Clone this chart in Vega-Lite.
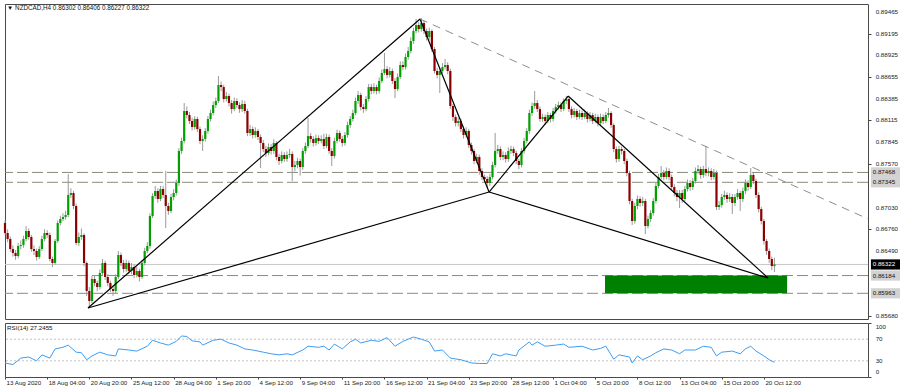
{
"$schema":"https://vega.github.io/schema/vega-lite/v6.json",
"padding":{"left":2,"top":3,"right":0,"bottom":0},
"spacing":2,
"config":{"font":"Liberation Sans","view":{"stroke":"#4a4a4a","strokeWidth":1},"axis":{"grid":false,"domain":false,"labelFontSize":6.2,"labelColor":"#222","tickColor":"#444","tickSize":3,"title":null,"labelFont":"Liberation Sans"}},
"datasets":{
"c":[
{"i":0,"o":0.86838,"h":0.8687,"l":0.8669,"c":0.86714},
{"i":1,"o":0.86714,"h":0.8676,"l":0.866,"c":0.86639},
{"i":2,"o":0.86639,"h":0.8667,"l":0.8648,"c":0.86514},
{"i":3,"o":0.86514,"h":0.8656,"l":0.8642,"c":0.86465},
{"i":4,"o":0.86465,"h":0.865,"l":0.8638,"c":0.86427},
{"i":5,"o":0.86427,"h":0.8659,"l":0.864,"c":0.86552},
{"i":6,"o":0.86552,"h":0.8662,"l":0.8651,"c":0.86564},
{"i":7,"o":0.86564,"h":0.8668,"l":0.8653,"c":0.86639},
{"i":8,"o":0.86639,"h":0.868,"l":0.8661,"c":0.86739},
{"i":9,"o":0.86739,"h":0.8677,"l":0.8663,"c":0.86664},
{"i":10,"o":0.86664,"h":0.8669,"l":0.8648,"c":0.86514},
{"i":11,"o":0.86514,"h":0.8656,"l":0.8644,"c":0.8649},
{"i":12,"o":0.8649,"h":0.8652,"l":0.8637,"c":0.86415},
{"i":13,"o":0.86415,"h":0.8655,"l":0.8639,"c":0.86514},
{"i":14,"o":0.86514,"h":0.8668,"l":0.8649,"c":0.86639},
{"i":15,"o":0.86639,"h":0.8676,"l":0.8661,"c":0.86714},
{"i":16,"o":0.86714,"h":0.8675,"l":0.8665,"c":0.86689},
{"i":17,"o":0.86689,"h":0.8672,"l":0.8636,"c":0.8639},
{"i":18,"o":0.8639,"h":0.8642,"l":0.8629,"c":0.8634},
{"i":19,"o":0.8634,"h":0.8664,"l":0.8632,"c":0.86614},
{"i":20,"o":0.86614,"h":0.8687,"l":0.8659,"c":0.86838},
{"i":21,"o":0.86838,"h":0.8693,"l":0.8681,"c":0.86888},
{"i":22,"o":0.86888,"h":0.8696,"l":0.8686,"c":0.86913},
{"i":23,"o":0.86913,"h":0.8699,"l":0.8688,"c":0.86938},
{"i":24,"o":0.86938,"h":0.87448,"l":0.8691,"c":0.87187},
{"i":25,"o":0.87187,"h":0.8727,"l":0.8715,"c":0.87212},
{"i":26,"o":0.87212,"h":0.8724,"l":0.8701,"c":0.8705},
{"i":27,"o":0.8705,"h":0.8708,"l":0.8656,"c":0.86589},
{"i":28,"o":0.86589,"h":0.8672,"l":0.8655,"c":0.86664},
{"i":29,"o":0.86664,"h":0.8677,"l":0.8663,"c":0.86689},
{"i":30,"o":0.86689,"h":0.8671,"l":0.863,"c":0.8634},
{"i":31,"o":0.8634,"h":0.8636,"l":0.8593,"c":0.85992},
{"i":32,"o":0.85992,"h":0.8604,"l":0.8578,"c":0.85867},
{"i":33,"o":0.85867,"h":0.8618,"l":0.8584,"c":0.86141},
{"i":34,"o":0.86141,"h":0.8619,"l":0.8605,"c":0.86091},
{"i":35,"o":0.86091,"h":0.8612,"l":0.8599,"c":0.86041},
{"i":36,"o":0.86041,"h":0.8626,"l":0.8601,"c":0.86216},
{"i":37,"o":0.86216,"h":0.8639,"l":0.8618,"c":0.8634},
{"i":38,"o":0.8634,"h":0.8637,"l":0.8613,"c":0.86166},
{"i":39,"o":0.86166,"h":0.862,"l":0.8605,"c":0.86091},
{"i":40,"o":0.86091,"h":0.8612,"l":0.8598,"c":0.86016},
{"i":41,"o":0.86016,"h":0.8606,"l":0.8593,"c":0.85992},
{"i":42,"o":0.85992,"h":0.862,"l":0.8596,"c":0.86166},
{"i":43,"o":0.86166,"h":0.8649,"l":0.8614,"c":0.8644},
{"i":44,"o":0.8644,"h":0.8647,"l":0.863,"c":0.8634},
{"i":45,"o":0.8634,"h":0.8638,"l":0.8622,"c":0.86265},
{"i":46,"o":0.86265,"h":0.8638,"l":0.8623,"c":0.8634},
{"i":47,"o":0.8634,"h":0.8637,"l":0.862,"c":0.86241},
{"i":48,"o":0.86241,"h":0.8634,"l":0.862,"c":0.8629},
{"i":49,"o":0.8629,"h":0.8632,"l":0.8615,"c":0.86191},
{"i":50,"o":0.86191,"h":0.8629,"l":0.8616,"c":0.86241},
{"i":51,"o":0.86241,"h":0.8627,"l":0.8611,"c":0.86166},
{"i":52,"o":0.86166,"h":0.8638,"l":0.8614,"c":0.8634},
{"i":53,"o":0.8634,"h":0.8653,"l":0.8631,"c":0.8649},
{"i":54,"o":0.8649,"h":0.866,"l":0.8646,"c":0.86552},
{"i":55,"o":0.86552,"h":0.8696,"l":0.8652,"c":0.86925},
{"i":56,"o":0.86925,"h":0.8721,"l":0.869,"c":0.87174},
{"i":57,"o":0.87174,"h":0.873,"l":0.8714,"c":0.87237},
{"i":58,"o":0.87237,"h":0.8727,"l":0.8709,"c":0.87137},
{"i":59,"o":0.87137,"h":0.873,"l":0.8711,"c":0.87261},
{"i":60,"o":0.87261,"h":0.873,"l":0.8715,"c":0.87187},
{"i":61,"o":0.87187,"h":0.87486,"l":0.86776,"c":0.8705},
{"i":62,"o":0.8705,"h":0.8709,"l":0.8694,"c":0.86988},
{"i":63,"o":0.86988,"h":0.872,"l":0.8696,"c":0.87162},
{"i":64,"o":0.87162,"h":0.8726,"l":0.8712,"c":0.87212},
{"i":65,"o":0.87212,"h":0.8738,"l":0.8718,"c":0.87336},
{"i":66,"o":0.87336,"h":0.8777,"l":0.873,"c":0.87735},
{"i":67,"o":0.87735,"h":0.879,"l":0.877,"c":0.87859},
{"i":68,"o":0.87859,"h":0.88332,"l":0.8783,"c":0.88233},
{"i":69,"o":0.88233,"h":0.8829,"l":0.8814,"c":0.88183},
{"i":70,"o":0.88183,"h":0.8822,"l":0.8807,"c":0.88108},
{"i":71,"o":0.88108,"h":0.8815,"l":0.8799,"c":0.88033},
{"i":72,"o":0.88033,"h":0.8817,"l":0.88,"c":0.88133},
{"i":73,"o":0.88133,"h":0.8816,"l":0.8797,"c":0.88008},
{"i":74,"o":0.88008,"h":0.8804,"l":0.8782,"c":0.87859},
{"i":75,"o":0.87859,"h":0.8793,"l":0.87735,"c":0.87884},
{"i":76,"o":0.87884,"h":0.8802,"l":0.8785,"c":0.87984},
{"i":77,"o":0.87984,"h":0.8817,"l":0.8795,"c":0.88133},
{"i":78,"o":0.88133,"h":0.8825,"l":0.881,"c":0.88208},
{"i":79,"o":0.88208,"h":0.8835,"l":0.8818,"c":0.88307},
{"i":80,"o":0.88307,"h":0.884,"l":0.8827,"c":0.88357},
{"i":81,"o":0.88357,"h":0.88668,"l":0.8833,"c":0.88556},
{"i":82,"o":0.88556,"h":0.886,"l":0.8848,"c":0.88531},
{"i":83,"o":0.88531,"h":0.8856,"l":0.8834,"c":0.88382},
{"i":84,"o":0.88382,"h":0.8847,"l":0.8835,"c":0.88419},
{"i":85,"o":0.88419,"h":0.8845,"l":0.8829,"c":0.88332},
{"i":86,"o":0.88332,"h":0.8837,"l":0.882,"c":0.88257},
{"i":87,"o":0.88257,"h":0.884,"l":0.8823,"c":0.88357},
{"i":88,"o":0.88357,"h":0.8839,"l":0.8827,"c":0.88307},
{"i":89,"o":0.88307,"h":0.8834,"l":0.8821,"c":0.88257},
{"i":90,"o":0.88257,"h":0.8837,"l":0.8822,"c":0.8832},
{"i":91,"o":0.8832,"h":0.8836,"l":0.882,"c":0.88233},
{"i":92,"o":0.88233,"h":0.8826,"l":0.8792,"c":0.87959},
{"i":93,"o":0.87959,"h":0.8806,"l":0.8792,"c":0.88008},
{"i":94,"o":0.88008,"h":0.8804,"l":0.8789,"c":0.87934},
{"i":95,"o":0.87934,"h":0.8803,"l":0.879,"c":0.87984},
{"i":96,"o":0.87984,"h":0.8801,"l":0.8787,"c":0.87909},
{"i":97,"o":0.87909,"h":0.8794,"l":0.87523,"c":0.87834},
{"i":98,"o":0.87834,"h":0.8787,"l":0.8772,"c":0.87759},
{"i":99,"o":0.87759,"h":0.878,"l":0.8766,"c":0.8771},
{"i":100,"o":0.8771,"h":0.8783,"l":0.8768,"c":0.87784},
{"i":101,"o":0.87784,"h":0.8782,"l":0.8769,"c":0.87735},
{"i":102,"o":0.87735,"h":0.8788,"l":0.877,"c":0.87834},
{"i":103,"o":0.87834,"h":0.8786,"l":0.8762,"c":0.8766},
{"i":104,"o":0.8766,"h":0.877,"l":0.8756,"c":0.8761},
{"i":105,"o":0.8761,"h":0.8773,"l":0.8758,"c":0.87685},
{"i":106,"o":0.87685,"h":0.8772,"l":0.876,"c":0.87635},
{"i":107,"o":0.87635,"h":0.8773,"l":0.876,"c":0.87685},
{"i":108,"o":0.87685,"h":0.8776,"l":0.8765,"c":0.87697},
{"i":109,"o":0.87697,"h":0.8773,"l":0.87361,"c":0.87535},
{"i":110,"o":0.87535,"h":0.8761,"l":0.8748,"c":0.8756},
{"i":111,"o":0.8756,"h":0.8765,"l":0.8752,"c":0.8761},
{"i":112,"o":0.8761,"h":0.8764,"l":0.8743,"c":0.87535},
{"i":113,"o":0.87535,"h":0.8777,"l":0.875,"c":0.87735},
{"i":114,"o":0.87735,"h":0.8784,"l":0.877,"c":0.87797},
{"i":115,"o":0.87797,"h":0.88145,"l":0.8777,"c":0.87921},
{"i":116,"o":0.87921,"h":0.8796,"l":0.8784,"c":0.87884},
{"i":117,"o":0.87884,"h":0.8792,"l":0.8779,"c":0.87834},
{"i":118,"o":0.87834,"h":0.8794,"l":0.878,"c":0.87896},
{"i":119,"o":0.87896,"h":0.8793,"l":0.8782,"c":0.87859},
{"i":120,"o":0.87859,"h":0.8793,"l":0.8783,"c":0.87884},
{"i":121,"o":0.87884,"h":0.8795,"l":0.8776,"c":0.87797},
{"i":122,"o":0.87797,"h":0.8795,"l":0.8777,"c":0.87909},
{"i":123,"o":0.87909,"h":0.8794,"l":0.877,"c":0.87735},
{"i":124,"o":0.87735,"h":0.8777,"l":0.87548,"c":0.87672},
{"i":125,"o":0.87672,"h":0.879,"l":0.8764,"c":0.87859},
{"i":126,"o":0.87859,"h":0.88,"l":0.8783,"c":0.87959},
{"i":127,"o":0.87959,"h":0.8799,"l":0.8785,"c":0.87884},
{"i":128,"o":0.87884,"h":0.8792,"l":0.8779,"c":0.87834},
{"i":129,"o":0.87834,"h":0.8797,"l":0.878,"c":0.87934},
{"i":130,"o":0.87934,"h":0.881,"l":0.879,"c":0.88058},
{"i":131,"o":0.88058,"h":0.8817,"l":0.8802,"c":0.88133},
{"i":132,"o":0.88133,"h":0.8825,"l":0.881,"c":0.88208},
{"i":133,"o":0.88208,"h":0.884,"l":0.8818,"c":0.88357},
{"i":134,"o":0.88357,"h":0.8848,"l":0.8832,"c":0.88432},
{"i":135,"o":0.88432,"h":0.8846,"l":0.8824,"c":0.88282},
{"i":136,"o":0.88282,"h":0.8832,"l":0.8821,"c":0.88257},
{"i":137,"o":0.88257,"h":0.8842,"l":0.8823,"c":0.88382},
{"i":138,"o":0.88382,"h":0.8857,"l":0.8835,"c":0.88531},
{"i":139,"o":0.88531,"h":0.8857,"l":0.8844,"c":0.88482},
{"i":140,"o":0.88482,"h":0.8858,"l":0.8845,"c":0.88531},
{"i":141,"o":0.88531,"h":0.8856,"l":0.8844,"c":0.88482},
{"i":142,"o":0.88482,"h":0.8865,"l":0.8845,"c":0.88606},
{"i":143,"o":0.88606,"h":0.8875,"l":0.8858,"c":0.88706},
{"i":144,"o":0.88706,"h":0.88955,"l":0.8868,"c":0.88755},
{"i":145,"o":0.88755,"h":0.8879,"l":0.8864,"c":0.88681},
{"i":146,"o":0.88681,"h":0.8878,"l":0.8865,"c":0.88731},
{"i":147,"o":0.88731,"h":0.8876,"l":0.8857,"c":0.88606},
{"i":148,"o":0.88606,"h":0.8864,"l":0.88394,"c":0.88506},
{"i":149,"o":0.88506,"h":0.887,"l":0.8848,"c":0.88656},
{"i":150,"o":0.88656,"h":0.8885,"l":0.8863,"c":0.88805},
{"i":151,"o":0.88805,"h":0.8885,"l":0.8874,"c":0.8878},
{"i":152,"o":0.8878,"h":0.8895,"l":0.8875,"c":0.88905},
{"i":153,"o":0.88905,"h":0.8903,"l":0.8887,"c":0.8898},
{"i":154,"o":0.8898,"h":0.8915,"l":0.8895,"c":0.89104},
{"i":155,"o":0.89104,"h":0.8927,"l":0.8907,"c":0.89229},
{"i":156,"o":0.89229,"h":0.89378,"l":0.892,"c":0.89303},
{"i":157,"o":0.89303,"h":0.8934,"l":0.8921,"c":0.89253},
{"i":158,"o":0.89253,"h":0.8939,"l":0.8922,"c":0.89328},
{"i":159,"o":0.89328,"h":0.8936,"l":0.8919,"c":0.89229},
{"i":160,"o":0.89229,"h":0.8926,"l":0.8911,"c":0.89154},
{"i":161,"o":0.89154,"h":0.8927,"l":0.8912,"c":0.89229},
{"i":162,"o":0.89229,"h":0.8925,"l":0.8897,"c":0.89004},
{"i":163,"o":0.89004,"h":0.8903,"l":0.887,"c":0.88731},
{"i":164,"o":0.88731,"h":0.8877,"l":0.8864,"c":0.88681},
{"i":165,"o":0.88681,"h":0.8877,"l":0.88457,"c":0.88731},
{"i":166,"o":0.88731,"h":0.8883,"l":0.887,"c":0.8878},
{"i":167,"o":0.8878,"h":0.8888,"l":0.8875,"c":0.88805},
{"i":168,"o":0.88805,"h":0.8884,"l":0.8869,"c":0.88731},
{"i":169,"o":0.88731,"h":0.8876,"l":0.8826,"c":0.88295},
{"i":170,"o":0.88295,"h":0.8832,"l":0.8811,"c":0.88158},
{"i":171,"o":0.88158,"h":0.8819,"l":0.8804,"c":0.88083},
{"i":172,"o":0.88083,"h":0.8815,"l":0.8804,"c":0.88108},
{"i":173,"o":0.88108,"h":0.8814,"l":0.8797,"c":0.88008},
{"i":174,"o":0.88008,"h":0.8804,"l":0.8789,"c":0.87934},
{"i":175,"o":0.87934,"h":0.8803,"l":0.879,"c":0.87984},
{"i":176,"o":0.87984,"h":0.8801,"l":0.8777,"c":0.87809},
{"i":177,"o":0.87809,"h":0.8784,"l":0.8769,"c":0.87735},
{"i":178,"o":0.87735,"h":0.8776,"l":0.8757,"c":0.8761},
{"i":179,"o":0.8761,"h":0.877,"l":0.8758,"c":0.8766},
{"i":180,"o":0.8766,"h":0.8769,"l":0.8744,"c":0.87486},
{"i":181,"o":0.87486,"h":0.8752,"l":0.8737,"c":0.87411},
{"i":182,"o":0.87411,"h":0.8744,"l":0.8734,"c":0.87386},
{"i":183,"o":0.87386,"h":0.8742,"l":0.87274,"c":0.87336},
{"i":184,"o":0.87336,"h":0.8745,"l":0.873,"c":0.87411},
{"i":185,"o":0.87411,"h":0.876,"l":0.8738,"c":0.8756},
{"i":186,"o":0.8756,"h":0.87959,"l":0.8753,"c":0.87735},
{"i":187,"o":0.87735,"h":0.8781,"l":0.877,"c":0.87759},
{"i":188,"o":0.87759,"h":0.8779,"l":0.8762,"c":0.8766},
{"i":189,"o":0.8766,"h":0.8773,"l":0.8762,"c":0.87685},
{"i":190,"o":0.87685,"h":0.8772,"l":0.8759,"c":0.87635},
{"i":191,"o":0.87635,"h":0.8778,"l":0.876,"c":0.87735},
{"i":192,"o":0.87735,"h":0.878,"l":0.877,"c":0.87759},
{"i":193,"o":0.87759,"h":0.8779,"l":0.8767,"c":0.8771},
{"i":194,"o":0.8771,"h":0.8774,"l":0.8757,"c":0.8761},
{"i":195,"o":0.8761,"h":0.8764,"l":0.8751,"c":0.8756},
{"i":196,"o":0.8756,"h":0.8777,"l":0.8753,"c":0.87735},
{"i":197,"o":0.87735,"h":0.879,"l":0.877,"c":0.87859},
{"i":198,"o":0.87859,"h":0.8802,"l":0.8783,"c":0.87984},
{"i":199,"o":0.87984,"h":0.8825,"l":0.8795,"c":0.88208},
{"i":200,"o":0.88208,"h":0.8834,"l":0.8817,"c":0.88295},
{"i":201,"o":0.88295,"h":0.88482,"l":0.8826,"c":0.88332},
{"i":202,"o":0.88332,"h":0.8837,"l":0.8822,"c":0.88257},
{"i":203,"o":0.88257,"h":0.8829,"l":0.881,"c":0.88133},
{"i":204,"o":0.88133,"h":0.882,"l":0.881,"c":0.88158},
{"i":205,"o":0.88158,"h":0.8819,"l":0.8806,"c":0.88108},
{"i":206,"o":0.88108,"h":0.8822,"l":0.8808,"c":0.88183},
{"i":207,"o":0.88183,"h":0.8821,"l":0.8809,"c":0.88133},
{"i":208,"o":0.88133,"h":0.8827,"l":0.881,"c":0.88233},
{"i":209,"o":0.88233,"h":0.8832,"l":0.882,"c":0.88282},
{"i":210,"o":0.88282,"h":0.8835,"l":0.8825,"c":0.88307},
{"i":211,"o":0.88307,"h":0.8834,"l":0.8822,"c":0.88257},
{"i":212,"o":0.88257,"h":0.8839,"l":0.8823,"c":0.88357},
{"i":213,"o":0.88357,"h":0.88419,"l":0.8832,"c":0.88382},
{"i":214,"o":0.88382,"h":0.884,"l":0.8822,"c":0.88257},
{"i":215,"o":0.88257,"h":0.8829,"l":0.8814,"c":0.88183},
{"i":216,"o":0.88183,"h":0.8827,"l":0.8815,"c":0.88233},
{"i":217,"o":0.88233,"h":0.8826,"l":0.8812,"c":0.88158},
{"i":218,"o":0.88158,"h":0.8825,"l":0.8813,"c":0.88208},
{"i":219,"o":0.88208,"h":0.8824,"l":0.8812,"c":0.88158},
{"i":220,"o":0.88158,"h":0.8825,"l":0.8813,"c":0.88208},
{"i":221,"o":0.88208,"h":0.8823,"l":0.8809,"c":0.88133},
{"i":222,"o":0.88133,"h":0.8822,"l":0.881,"c":0.88183},
{"i":223,"o":0.88183,"h":0.8821,"l":0.8807,"c":0.88108},
{"i":224,"o":0.88108,"h":0.882,"l":0.8808,"c":0.88158},
{"i":225,"o":0.88158,"h":0.8819,"l":0.8804,"c":0.88083},
{"i":226,"o":0.88083,"h":0.882,"l":0.8805,"c":0.88158},
{"i":227,"o":0.88158,"h":0.8819,"l":0.8807,"c":0.88108},
{"i":228,"o":0.88108,"h":0.8822,"l":0.8808,"c":0.88183},
{"i":229,"o":0.88183,"h":0.8827,"l":0.8815,"c":0.88208},
{"i":230,"o":0.88208,"h":0.8823,"l":0.8802,"c":0.88058},
{"i":231,"o":0.88058,"h":0.8808,"l":0.8772,"c":0.87759},
{"i":232,"o":0.87759,"h":0.8779,"l":0.8759,"c":0.87635},
{"i":233,"o":0.87635,"h":0.878,"l":0.876,"c":0.87759},
{"i":234,"o":0.87759,"h":0.8779,"l":0.8769,"c":0.87735},
{"i":235,"o":0.87735,"h":0.8776,"l":0.8757,"c":0.8761},
{"i":236,"o":0.8761,"h":0.8764,"l":0.8742,"c":0.87461},
{"i":237,"o":0.87461,"h":0.8749,"l":0.8707,"c":0.87112},
{"i":238,"o":0.87112,"h":0.8714,"l":0.86813,"c":0.86863},
{"i":239,"o":0.86863,"h":0.8709,"l":0.8683,"c":0.8705},
{"i":240,"o":0.8705,"h":0.8718,"l":0.8701,"c":0.87137},
{"i":241,"o":0.87137,"h":0.8717,"l":0.8704,"c":0.87087},
{"i":242,"o":0.87087,"h":0.8716,"l":0.8705,"c":0.87112},
{"i":243,"o":0.87112,"h":0.8714,"l":0.86701,"c":0.86801},
{"i":244,"o":0.86801,"h":0.8693,"l":0.8677,"c":0.86888},
{"i":245,"o":0.86888,"h":0.87,"l":0.8685,"c":0.86963},
{"i":246,"o":0.86963,"h":0.8715,"l":0.8693,"c":0.87112},
{"i":247,"o":0.87112,"h":0.8734,"l":0.8708,"c":0.87299},
{"i":248,"o":0.87299,"h":0.8745,"l":0.8727,"c":0.87411},
{"i":249,"o":0.87411,"h":0.87548,"l":0.8738,"c":0.87461},
{"i":250,"o":0.87461,"h":0.875,"l":0.8737,"c":0.87411},
{"i":251,"o":0.87411,"h":0.8753,"l":0.8738,"c":0.87486},
{"i":252,"o":0.87486,"h":0.8752,"l":0.8737,"c":0.87411},
{"i":253,"o":0.87411,"h":0.8744,"l":0.8724,"c":0.87286},
{"i":254,"o":0.87286,"h":0.8732,"l":0.8717,"c":0.87212},
{"i":255,"o":0.87212,"h":0.8725,"l":0.8711,"c":0.87162},
{"i":256,"o":0.87162,"h":0.8725,"l":0.87025,"c":0.87212},
{"i":257,"o":0.87212,"h":0.8725,"l":0.8709,"c":0.87137},
{"i":258,"o":0.87137,"h":0.873,"l":0.8711,"c":0.87261},
{"i":259,"o":0.87261,"h":0.8738,"l":0.8723,"c":0.87336},
{"i":260,"o":0.87336,"h":0.8737,"l":0.8724,"c":0.87286},
{"i":261,"o":0.87286,"h":0.874,"l":0.8725,"c":0.87361},
{"i":262,"o":0.87361,"h":0.8753,"l":0.8733,"c":0.87486},
{"i":263,"o":0.87486,"h":0.8756,"l":0.8745,"c":0.8751},
{"i":264,"o":0.8751,"h":0.8754,"l":0.8739,"c":0.87436},
{"i":265,"o":0.87436,"h":0.8755,"l":0.874,"c":0.8751},
{"i":266,"o":0.8751,"h":0.87797,"l":0.8742,"c":0.87461},
{"i":267,"o":0.87461,"h":0.8753,"l":0.8742,"c":0.87486},
{"i":268,"o":0.87486,"h":0.8752,"l":0.8737,"c":0.87411},
{"i":269,"o":0.87411,"h":0.8751,"l":0.8738,"c":0.87461},
{"i":270,"o":0.87461,"h":0.8749,"l":0.87,"c":0.87037},
{"i":271,"o":0.87037,"h":0.8711,"l":0.87,"c":0.87062},
{"i":272,"o":0.87062,"h":0.872,"l":0.8703,"c":0.87162},
{"i":273,"o":0.87162,"h":0.8724,"l":0.8713,"c":0.87187},
{"i":274,"o":0.87187,"h":0.8722,"l":0.8709,"c":0.87137},
{"i":275,"o":0.87137,"h":0.8721,"l":0.871,"c":0.87162},
{"i":276,"o":0.87162,"h":0.872,"l":0.8695,"c":0.87087},
{"i":277,"o":0.87087,"h":0.872,"l":0.8705,"c":0.87162},
{"i":278,"o":0.87162,"h":0.8726,"l":0.8713,"c":0.87212},
{"i":279,"o":0.87212,"h":0.8724,"l":0.86988,"c":0.87137},
{"i":280,"o":0.87137,"h":0.8728,"l":0.871,"c":0.87237},
{"i":281,"o":0.87237,"h":0.8738,"l":0.872,"c":0.87336},
{"i":282,"o":0.87336,"h":0.8737,"l":0.8724,"c":0.87286},
{"i":283,"o":0.87286,"h":0.87523,"l":0.8726,"c":0.87436},
{"i":284,"o":0.87436,"h":0.8747,"l":0.8732,"c":0.87361},
{"i":285,"o":0.87361,"h":0.8739,"l":0.8715,"c":0.87187},
{"i":286,"o":0.87187,"h":0.8722,"l":0.8697,"c":0.87012},
{"i":287,"o":0.87012,"h":0.8704,"l":0.8682,"c":0.86863},
{"i":288,"o":0.86863,"h":0.8689,"l":0.8657,"c":0.86614},
{"i":289,"o":0.86614,"h":0.8664,"l":0.8644,"c":0.8649},
{"i":290,"o":0.8649,"h":0.8652,"l":0.8634,"c":0.8639},
{"i":291,"o":0.8639,"h":0.8642,"l":0.8625,"c":0.86302},
{"i":292,"o":0.86302,"h":0.86406,"l":0.86227,"c":0.86322}
],
"rsi":[
{"i":0,"v":26},{"i":3,"v":23},{"i":6,"v":35},{"i":9,"v":37},{"i":12,"v":30},{"i":14,"v":41},{"i":17,"v":35},{"i":19,"v":52},{"i":22,"v":55},{"i":24,"v":59},{"i":27,"v":46},{"i":29,"v":45},{"i":31,"v":32},{"i":33,"v":39},{"i":36,"v":46},{"i":39,"v":41},{"i":42,"v":39},{"i":43,"v":52},{"i":47,"v":50},{"i":50,"v":48},{"i":54,"v":57},{"i":56,"v":68},{"i":59,"v":63},{"i":62,"v":59},{"i":65,"v":66},{"i":67,"v":76},{"i":69,"v":75},{"i":71,"v":67},{"i":74,"v":65},{"i":75,"v":59},{"i":79,"v":68},{"i":82,"v":70},{"i":85,"v":63},{"i":88,"v":59},{"i":91,"v":52},{"i":94,"v":50},{"i":98,"v":46},{"i":101,"v":43},{"i":104,"v":41},{"i":107,"v":43},{"i":109,"v":41},{"i":113,"v":50},{"i":115,"v":57},{"i":119,"v":55},{"i":121,"v":57},{"i":123,"v":50},{"i":125,"v":61},{"i":128,"v":52},{"i":131,"v":65},{"i":133,"v":70},{"i":135,"v":63},{"i":139,"v":68},{"i":142,"v":66},{"i":145,"v":73},{"i":148,"v":57},{"i":151,"v":66},{"i":155,"v":74},{"i":158,"v":70},{"i":161,"v":65},{"i":163,"v":48},{"i":166,"v":50},{"i":169,"v":35},{"i":173,"v":32},{"i":177,"v":26},{"i":180,"v":25},{"i":183,"v":25},{"i":185,"v":43},{"i":188,"v":39},{"i":190,"v":43},{"i":194,"v":39},{"i":195,"v":50},{"i":199,"v":65},{"i":200,"v":59},{"i":202,"v":65},{"i":205,"v":57},{"i":209,"v":59},{"i":212,"v":61},{"i":214,"v":55},{"i":219,"v":57},{"i":223,"v":50},{"i":226,"v":53},{"i":228,"v":57},{"i":231,"v":33},{"i":233,"v":41},{"i":237,"v":37},{"i":238,"v":26},{"i":240,"v":39},{"i":242,"v":32},{"i":245,"v":39},{"i":247,"v":45},{"i":250,"v":52},{"i":253,"v":50},{"i":256,"v":43},{"i":258,"v":50},{"i":262,"v":50},{"i":265,"v":57},{"i":268,"v":55},{"i":270,"v":39},{"i":272,"v":46},{"i":276,"v":48},{"i":279,"v":43},{"i":281,"v":52},{"i":283,"v":57},{"i":285,"v":48},{"i":288,"v":39},{"i":290,"v":32},{"i":292,"v":27.2455}
],
"levels":[{"p":0.87468},{"p":0.87345},{"p":0.86184},{"p":0.85963}],
"pticks":[{"p":0.89465},{"p":0.89195},{"p":0.88925},{"p":0.88655},{"p":0.88385},{"p":0.88115},{"p":0.87845},{"p":0.8757},{"p":0.8703},{"p":0.8676},{"p":0.8649},{"p":0.8568}],
"boxes":[{"p":0.87468,"lab":"0.87468","cur":0},{"p":0.87345,"lab":"0.87345","cur":0},{"p":0.86322,"lab":"0.86322","cur":1},{"p":0.86184,"lab":"0.86184","cur":0},{"p":0.85963,"lab":"0.85963","cur":0}],
"segs":[
{"a":31.5,"pa":0.8578,"b":157.5,"pb":0.89378},
{"a":31.5,"pa":0.8578,"b":183.7,"pb":0.87224},
{"a":157.5,"pa":0.89378,"b":183.7,"pb":0.87224},
{"a":183.7,"pa":0.87224,"b":213.7,"pb":0.88419},
{"a":213.7,"pa":0.88419,"b":289.6,"pb":0.86153},
{"a":183.7,"pa":0.87224,"b":289.6,"pb":0.86153}
]
},
"vconcat":[
{
"width":863,"height":315,
"layer":[
{"data":{"name":"levels"},"mark":{"type":"rule","color":"#8a8a7a","strokeDash":[11,4],"strokeWidth":1},
 "encoding":{"y":{"field":"p","type":"quantitative","scale":{"domain":[0.85643,0.89565],"nice":false,"zero":false},"axis":{"orient":"right","values":[0.89465,0.89195,0.88925,0.88655,0.88385,0.88115,0.87845,0.8757,0.8703,0.8676,0.8649,0.8568],"labels":false}}}},
{"data":{"values":[{"p":0.86322}]},"mark":{"type":"rule","color":"#c8c8c8","strokeWidth":1},
 "encoding":{"y":{"field":"p","type":"quantitative"}}},
{"data":{"values":[{"a":227.7,"b":296.8,"lo":0.85963,"hi":0.86184}]},"mark":{"type":"rect","color":"#008000"},
 "encoding":{"x":{"field":"a","type":"quantitative","scale":{"domain":[0,327.5],"nice":false,"zero":false},"axis":null},"x2":{"field":"b"},"y":{"field":"lo","type":"quantitative"},"y2":{"field":"hi"}}},
{"data":{"name":"c"},"mark":{"type":"rule","color":"#9a9a9a","strokeWidth":1},
 "encoding":{"x":{"field":"i","type":"quantitative"},"y":{"field":"l","type":"quantitative"},"y2":{"field":"h"}}},
{"data":{"name":"c"},"mark":{"type":"rule","strokeWidth":2.2},
 "encoding":{"x":{"field":"i","type":"quantitative"},"y":{"field":"o","type":"quantitative"},"y2":{"field":"c"},
  "color":{"condition":{"test":"datum.c >= datum.o","value":"#00a000"},"value":"#8b0000"}}},
{"data":{"name":"segs"},"mark":{"type":"rule","color":"#000000","strokeWidth":1.2},
 "encoding":{"x":{"field":"a","type":"quantitative"},"x2":{"field":"b"},"y":{"field":"pa","type":"quantitative"},"y2":{"field":"pb"}}},
{"data":{"values":[{"a":157.5,"pa":0.89378,"b":327.5,"pb":0.8689}]},"mark":{"type":"rule","color":"#707070","strokeWidth":0.8,"strokeDash":[8,6]},
 "encoding":{"x":{"field":"a","type":"quantitative"},"x2":{"field":"b"},"y":{"field":"pa","type":"quantitative"},"y2":{"field":"pb"}}},
{"data":{"values":[{"t":"▼ NZDCAD,H4  0.86302 0.86406 0.86227 0.86322"}]},"mark":{"type":"text","align":"left","baseline":"middle","fontSize":6.3,"color":"#111"},
 "encoding":{"x":{"datum":0.8,"type":"quantitative"},"y":{"datum":0.89515,"type":"quantitative"},"text":{"field":"t"}}},
{"data":{"name":"pticks"},"mark":{"type":"text","align":"left","baseline":"middle","fontSize":6.2,"color":"#222"},
 "encoding":{"x":{"datum":330.4,"type":"quantitative"},"y":{"field":"p","type":"quantitative"},"text":{"field":"p","format":".5f"}}},
{"data":{"name":"boxes"},"mark":{"type":"point","filled":true,"opacity":1,"shape":"M-1,-0.34L1,-0.34L1,0.34L-1,0.34Z","size":900,"strokeWidth":0},
 "encoding":{"x":{"datum":334.3,"type":"quantitative"},"y":{"field":"p","type":"quantitative"},
  "color":{"condition":{"test":"datum.cur == 1","value":"#000000"},"value":"#d2d2d2"}}},
{"data":{"name":"boxes"},"mark":{"type":"text","align":"left","baseline":"middle","fontSize":6.2},
 "encoding":{"x":{"datum":329.3,"type":"quantitative"},"y":{"field":"p","type":"quantitative"},"text":{"field":"lab"},
  "color":{"condition":{"test":"datum.cur == 1","value":"#ffffff"},"value":"#111111"}}}
]
},
{
"width":863,"height":54,
"layer":[
{"data":{"values":[{"v":70},{"v":30}]},"mark":{"type":"rule","color":"#b4b4b4","strokeDash":[2,2],"strokeWidth":0.8},
 "encoding":{"y":{"field":"v","type":"quantitative","scale":{"domain":[0,100],"nice":false},"axis":{"orient":"right","values":[100,70,30,0],"labels":false}}}},
{"data":{"name":"rsi"},"mark":{"type":"line","color":"#3d9df5","strokeWidth":1},
 "encoding":{"x":{"field":"i","type":"quantitative","scale":{"domain":[0,327.5],"nice":false,"zero":false},
   "axis":{"orient":"bottom","values":[0,16,32,48,64,80,96,112,128,144,160,176,192,208,224,240,256,272,288],"labelAlign":"left","labelOffset":1,"tickSize":2,"labelPadding":0,"labelOverlap":false,
   "labelExpr":"['13 Aug 2020','18 Aug 04:00','20 Aug 20:00','25 Aug 12:00','28 Aug 04:00','1 Sep 20:00','4 Sep 12:00','9 Sep 04:00','11 Sep 20:00','16 Sep 12:00','21 Sep 04:00','23 Sep 20:00','28 Sep 12:00','1 Oct 04:00','5 Oct 20:00','8 Oct 12:00','13 Oct 04:00','15 Oct 20:00','20 Oct 12:00'][round(datum.value/16)]"}},
  "y":{"field":"v","type":"quantitative"}}},
{"data":{"values":[{"v":70},{"v":30}]},"mark":{"type":"text","align":"left","baseline":"middle","fontSize":6.2,"color":"#222"},
 "encoding":{"x":{"datum":330.4,"type":"quantitative"},"y":{"field":"v","type":"quantitative"},"text":{"field":"v"}}},
{"data":{"values":[{"v":100}]},"mark":{"type":"text","align":"left","baseline":"top","fontSize":6.2,"color":"#222","dy":1},
 "encoding":{"x":{"datum":330.4,"type":"quantitative"},"y":{"field":"v","type":"quantitative"},"text":{"field":"v"}}},
{"data":{"values":[{"v":0}]},"mark":{"type":"text","align":"left","baseline":"bottom","fontSize":6.2,"color":"#222","dy":-2},
 "encoding":{"x":{"datum":330.4,"type":"quantitative"},"y":{"field":"v","type":"quantitative"},"text":{"field":"v"}}},
{"data":{"values":[{"t":"RSI(14) 27.2455"}]},"mark":{"type":"text","align":"left","baseline":"middle","fontSize":6.2,"color":"#111"},
 "encoding":{"x":{"datum":0.8,"type":"quantitative"},"y":{"datum":90,"type":"quantitative"},"text":{"field":"t"}}}
]
}
]
}
